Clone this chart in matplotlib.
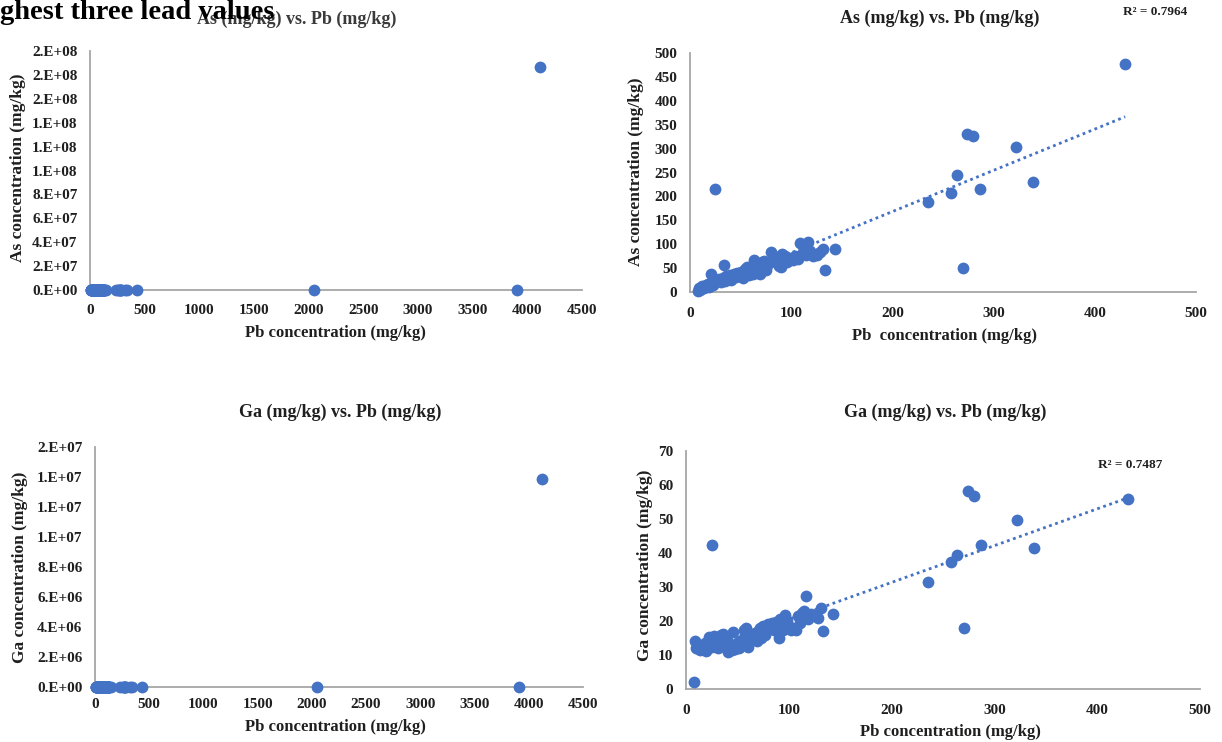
import numpy as np
import matplotlib
matplotlib.use("Agg")
import matplotlib.pyplot as plt
from matplotlib.ticker import FuncFormatter, MultipleLocator

# ---------------- data ----------------
pb = [8, 9, 10, 12, 14, 16, 18, 19, 21, 22, 23, 25, 25, 27, 29, 31, 33, 34, 35, 36,
      38, 40, 41, 43, 45, 46, 48, 50, 52, 54, 56, 57, 58, 60, 62, 63, 65, 67, 69, 71,
      72, 73, 75, 77, 80, 82, 84, 86, 88, 89, 90, 91, 93, 94, 96, 98, 100, 102, 104, 107,
      109, 111, 113, 115, 117, 119, 122, 125, 128, 131, 133, 143,
      235, 258, 264, 270, 274, 280, 287, 322, 339, 430]
as_ = [2, 9, 5, 12, 8, 15, 17, 10, 38, 20, 14, 216, 24, 22, 28, 20, 30, 56, 24, 33,
       28, 36, 26, 38, 32, 40, 35, 42, 30, 48, 52, 40, 35, 45, 38, 67, 50, 42, 38, 63,
       55, 65, 45, 58, 83, 70, 66, 60, 55, 75, 52, 80, 65, 76, 62, 72, 68, 66, 76, 70,
       102, 80, 88, 78, 104, 85, 76, 78, 84, 91, 47, 91,
       189, 208, 245, 51, 331, 326, 216, 303, 231, 476]
ga = [2.2, 14.2, 12.2, 12.8, 11.5, 12.5, 13.4, 11.2, 14.0, 15.2, 13.0, 42.5, 12.4, 15.6, 13.9, 12.0, 14.5, 16.0, 13.0, 16.3,
      12.4, 14.0, 10.8, 12.8, 11.5, 16.8, 11.8, 13.4, 12.0, 14.5, 17.5, 15.8, 18.0, 12.4, 16.0, 15.4, 14.8, 16.5, 14.0, 17.5,
      18.0, 15.0, 18.5, 16.0, 19.0, 18.2, 19.5, 17.5, 19.8, 18.0, 15.0, 20.5, 19.0, 17.5, 21.8, 20.0, 18.3, 17.5, 18.0, 17.3,
      21.5, 19.5, 22.5, 23.0, 27.5, 20.5, 22.0, 21.5, 21.0, 23.8, 17.0, 22.0,
      31.5, 37.5, 39.5, 18.0, 58.2, 56.7, 42.5, 49.6, 41.5, 56.0]

# highest three lead values (only shown in the left-hand panels)
pb_high = [2050, 3910, 4120]
as_high = [520, 610, 1.87e8]
ga_high = [60, 70, 1.39e7]

r2_as = "R² = 0.7964"
r2_ga = "R² = 0.7487"

# ---------------- style ----------------
BLUE = "#4472C4"
TXT = "#1f1f1f"
AX = "#A6A6A6"
SERIF = ["Liberation Serif", "DejaVu Serif"]
plt.rcParams["font.family"] = SERIF
plt.rcParams["font.weight"] = "bold"

W, H = 1222, 742
fig = plt.figure(figsize=(W / 100, H / 100), dpi=100)


def rect(l, t, r, b):
    return [l / W, 1 - b / H, (r - l) / W, (b - t) / H]


def style(ax, xpad=9, ypad=7):
    for s in ("top", "right"):
        ax.spines[s].set_visible(False)
    for s in ("left", "bottom"):
        ax.spines[s].set_color(AX)
        ax.spines[s].set_linewidth(1.3)
    ax.tick_params(length=0, labelsize=11, colors=TXT)
    ax.tick_params(axis="x", pad=xpad)
    ax.tick_params(axis="y", pad=ypad)
    for lab in ax.get_xticklabels() + ax.get_yticklabels():
        lab.set_fontweight("bold")


def ftext(x, y, s, size, **kw):
    fig.text(x / W, 1 - y / H, s, fontsize=size, fontweight="bold",
             color=kw.pop("color", TXT), family=SERIF, **kw)


sci = FuncFormatter(lambda v, _: "%#.0E" % v)

pb_all = pb + pb_high
as_all = as_ + as_high
ga_all = ga + ga_high
MS = 72

# top-left
ax1 = fig.add_axes(rect(90, 51, 582, 290))
ax1.scatter(pb_all, as_all, s=MS, color=BLUE, zorder=3, clip_on=False, linewidths=0)
ax1.set_xlim(0, 4500)
ax1.set_ylim(0, 2e8)
ax1.xaxis.set_major_locator(MultipleLocator(500))
ax1.yaxis.set_major_locator(MultipleLocator(2e7))
ax1.yaxis.set_major_formatter(sci)
style(ax1, xpad=10, ypad=9)

# bottom-left
ax3 = fig.add_axes(rect(95, 447, 583, 687))
ax3.scatter(pb_all, ga_all, s=MS, color=BLUE, zorder=3, clip_on=False, linewidths=0)
ax3.set_xlim(0, 4500)
ax3.set_ylim(0, 1.6e7)
ax3.xaxis.set_major_locator(MultipleLocator(500))
ax3.yaxis.set_major_locator(MultipleLocator(2e6))
ax3.yaxis.set_major_formatter(sci)
style(ax3, xpad=8, ypad=9)

# top-right
ax2 = fig.add_axes(rect(690, 53, 1196, 292))
ax2.scatter(pb, as_, s=MS, color=BLUE, zorder=3, clip_on=False, linewidths=0)
k, c = np.polyfit(pb, as_, 1)
xx = np.array([min(pb), max(pb)])
ax2.plot(xx, k * xx + c, ls=(0, (1, 1.3)), color=BLUE, lw=2, zorder=2)
ax2.set_xlim(0, 500)
ax2.set_ylim(0, 500)
ax2.xaxis.set_major_locator(MultipleLocator(100))
ax2.yaxis.set_major_locator(MultipleLocator(50))
style(ax2, xpad=11, ypad=9)

# bottom-right
ax4 = fig.add_axes(rect(686, 451, 1200, 689))
ax4.scatter(pb, ga, s=MS, color=BLUE, zorder=3, clip_on=False, linewidths=0)
k2, c2 = np.polyfit(pb, ga, 1)
ax4.plot(xx, k2 * xx + c2, ls=(0, (1, 1.3)), color=BLUE, lw=2, zorder=2)
ax4.set_xlim(0, 500)
ax4.set_ylim(0, 70)
ax4.xaxis.set_major_locator(MultipleLocator(100))
ax4.yaxis.set_major_locator(MultipleLocator(10))
style(ax4, xpad=11, ypad=9)

# titles
ftext(297, 19, "As (mg/kg) vs. Pb (mg/kg)", 13, ha="center", va="center", color="#3a3a3a")
ftext(940, 18, "As (mg/kg) vs. Pb (mg/kg)", 13, ha="center", va="center")
ftext(340, 412, "Ga (mg/kg) vs. Pb (mg/kg)", 13, ha="center", va="center")
ftext(945, 412, "Ga (mg/kg) vs. Pb (mg/kg)", 13, ha="center", va="center")

# overlapping caption fragment
ftext(0, 19, "ghest three lead values", 20.5, ha="left", va="baseline", color="black")

# axis labels
ftext(335, 333, "Pb concentration (mg/kg)", 12, ha="center", va="center")
ftext(944, 336, "Pb  concentration (mg/kg)", 12, ha="center", va="center")
ftext(335, 727, "Pb concentration (mg/kg)", 12, ha="center", va="center")
ftext(950, 732, "Pb concentration (mg/kg)", 12, ha="center", va="center")
ftext(18, 168, "As concentration (mg/kg)", 12.5, ha="center", va="center", rotation=90)
ftext(636, 172, "As concentration (mg/kg)", 12.5, ha="center", va="center", rotation=90)
ftext(20, 567, "Ga concentration (mg/kg)", 12.5, ha="center", va="center", rotation=90)
ftext(645, 565, "Ga concentration (mg/kg)", 12.5, ha="center", va="center", rotation=90)

# R² labels
ftext(1155, 12, r2_as, 9.5, ha="center", va="center")
ftext(1130, 465, r2_ga, 9.5, ha="center", va="center")

fig.savefig("out.png", dpi=100)
